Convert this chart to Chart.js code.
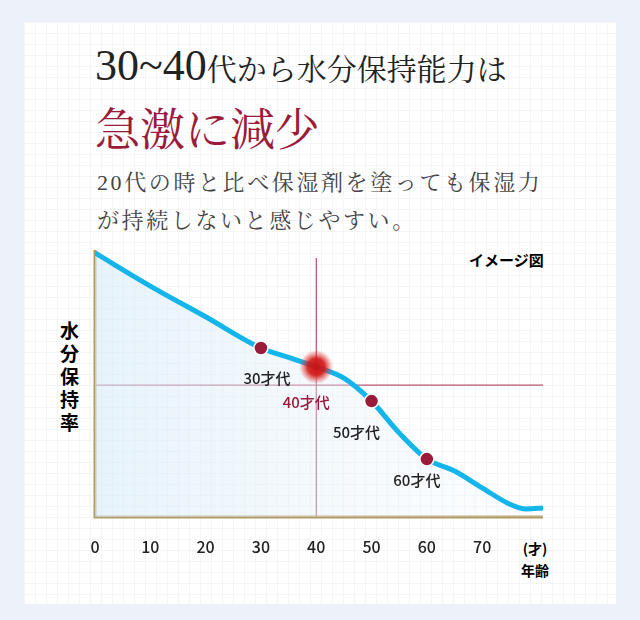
<!DOCTYPE html>
<html><head><meta charset="utf-8">
<script src="https://cdn.jsdelivr.net/npm/chart.js@4"></script>
<style>
body{margin:0;background:#edf1f8;width:640px;height:620px;overflow:hidden;font-family:"Noto Sans CJK JP",sans-serif}
#card{position:absolute;left:24px;top:22px;width:592px;height:582px;background:#fff;
background-image:linear-gradient(#f4f5f8 1px,transparent 1px),linear-gradient(90deg,#f4f5f8 1px,transparent 1px);background-size:11px 11px}
.t{position:absolute;font-family:"Liberation Serif","Noto Serif CJK JP","Noto Sans CJK JP",serif;white-space:nowrap}
canvas{position:absolute;left:0;top:0}
</style></head><body>
<div id="card"></div>
<div class="t" style="left:95px;top:40px;font-size:30px;color:#222"><span style="font-size:44px">30~40</span>代から水分保持能力は</div>
<div class="t" style="left:95px;top:94px;font-size:45px;color:#9b1b3a">急激に減少</div>
<div class="t" style="left:97px;top:165px;font-size:22px;color:#444;letter-spacing:2.6px">20代の時と比べ保湿剤を塗っても保湿力</div>
<div class="t" style="left:97px;top:203px;font-size:22px;color:#444;letter-spacing:2.6px">が持続しないと感じやすい。</div>
<div class="t" style="left:469px;top:249px;font-size:15px;font-weight:bold;font-family:'Noto Sans CJK JP'">イメージ図</div>
<div class="t" style="left:60px;top:318px;width:24px;font-size:19px;line-height:23px;font-weight:bold;font-family:'Noto Sans CJK JP';white-space:normal">水分保持率</div>
<div class="t" style="left:521px;top:537px;font-size:14px;line-height:22px;font-weight:bold;font-family:'Noto Sans CJK JP';text-align:center">(才)<br>年齢</div>
<canvas id="c" width="640" height="620"></canvas>
<script>
const ages=[0,10,20,30,35,40,45,50,55,60,65,70,75,78,81];
const moisture=[98.9,86.5,75,63.3,59.8,56.2,52,43.4,31.5,21.7,17.2,10.9,4.8,3.0,3.4];
const markAges=[30,40,50,60];
const markVals=[63.3,56.2,43.4,21.7];
const markLabels=["30才代","40才代","50才代","60才代"];
const xTicks=[0,10,20,30,40,50,60,70];
const refY=49.4, refX=40;
const deco={id:'deco',
beforeDatasetsDraw(ch){const {ctx,chartArea:a,scales:{x,y}}=ch;ctx.save();ctx.strokeStyle='#a8304f';ctx.lineWidth=1;
ctx.beginPath();ctx.moveTo(a.left,y.getPixelForValue(refY));ctx.lineTo(a.right,y.getPixelForValue(refY));
ctx.moveTo(x.getPixelForValue(refX),258);ctx.lineTo(x.getPixelForValue(refX),a.bottom);ctx.stroke();
ctx.strokeStyle='#b39a62';ctx.lineWidth=3;ctx.beginPath();ctx.moveTo(a.left,250);ctx.lineTo(a.left,a.bottom);ctx.lineTo(a.right,a.bottom);ctx.stroke();
ctx.fillStyle='#222';ctx.font='500 16px "Noto Sans CJK JP"';ctx.textAlign='center';ctx.textBaseline='middle';
xTicks.forEach(v=>ctx.fillText(v,x.getPixelForValue(v),547));ctx.restore();},
afterDatasetsDraw(ch){const {ctx,scales:{x,y}}=ch;ctx.save();
const gx=x.getPixelForValue(40),gy=y.getPixelForValue(56.2);
const g=ctx.createRadialGradient(gx,gy,0,gx,gy,17);g.addColorStop(0,'rgba(200,20,20,1)');g.addColorStop(0.5,'rgba(210,20,20,0.9)');g.addColorStop(1,'rgba(230,60,60,0)');
ctx.fillStyle=g;ctx.beginPath();ctx.arc(gx,gy,17,0,7);ctx.fill();
ctx.font='500 15px "Noto Sans CJK JP"';ctx.textAlign='center';ctx.textBaseline='middle';
const off=[[6,30],[-10,35],[-15,31],[-10,21]];
markAges.forEach((m,i)=>{ctx.fillStyle=i==1?'#9b1b3a':'#222';ctx.fillText(markLabels[i],x.getPixelForValue(m)+off[i][0],y.getPixelForValue(markVals[i])+off[i][1]);});
ctx.restore();}};
new Chart(document.getElementById('c'),{type:'line',
data:{datasets:[
{data:markAges.map((a,i)=>({x:a,y:markVals[i]})),showLine:false,pointRadius:[7,0,7,7],pointBackgroundColor:'#9b1b3a',pointBorderColor:'#fff',pointBorderWidth:1.5},
{data:ages.map((a,i)=>({x:a,y:moisture[i]})),borderColor:'#13b5ea',borderWidth:5,pointRadius:0,cubicInterpolationMode:'monotone',
fill:'origin',backgroundColor:(c)=>{const a=c.chart.chartArea;if(!a)return 'rgba(0,0,0,0)';const g=c.chart.ctx.createLinearGradient(a.left,0,a.right,0);g.addColorStop(0,'rgba(215,235,248,0.6)');g.addColorStop(1,'rgba(240,247,252,0.2)');return g;}}]},
options:{responsive:false,animation:false,layout:{padding:{left:95,right:97,top:250,bottom:103}},
plugins:{legend:{display:false},tooltip:{enabled:false}},
scales:{x:{type:'linear',min:0,max:81,display:false},y:{min:0,max:100,display:false}}},
plugins:[deco]});
</script></body></html>
